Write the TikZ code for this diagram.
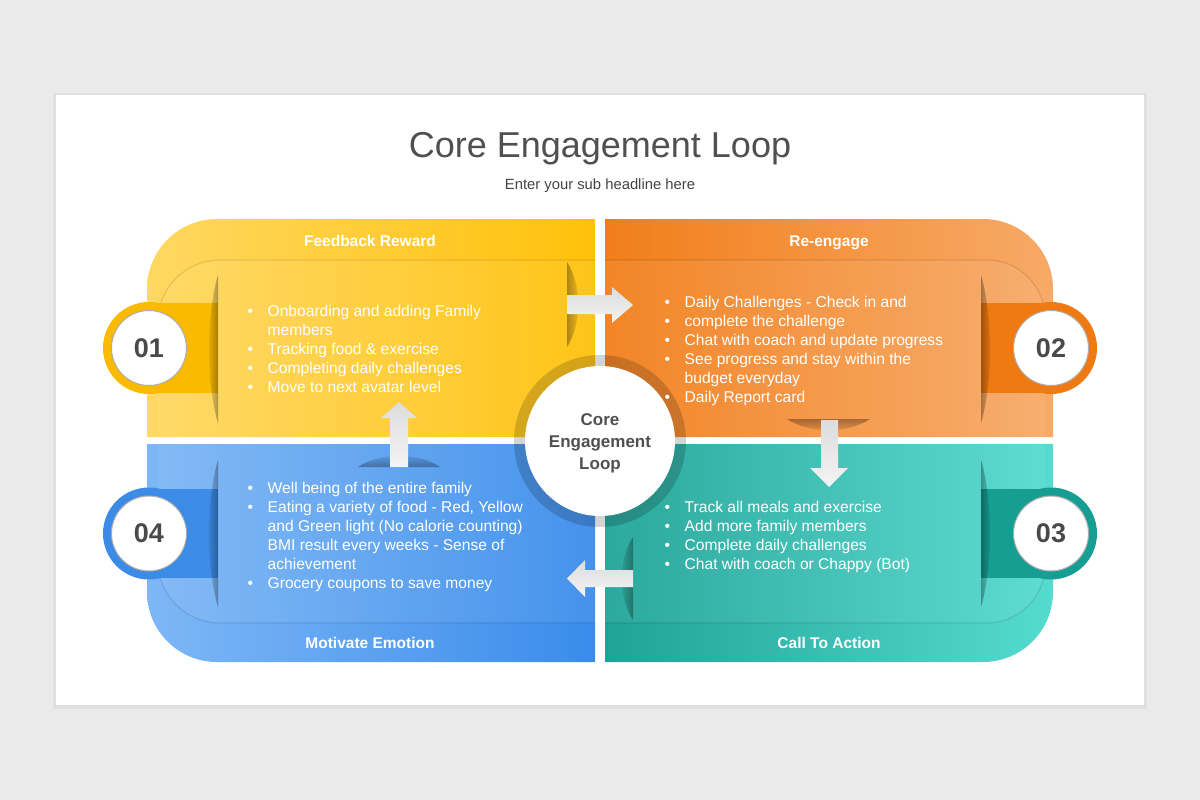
\documentclass[tikz,border=0pt]{standalone}
\usepackage{fontspec}
\setmainfont{Liberation Sans}
\usetikzlibrary{fadings}
\definecolor{bg}{HTML}{EBEAEB}
\definecolor{titlegray}{HTML}{505050}
\definecolor{subgray}{HTML}{444444}
\definecolor{numgray}{HTML}{4A4A4A}
\definecolor{yelL}{HTML}{FFD862}
\definecolor{yelR}{HTML}{FFC10A}
\definecolor{yelT}{HTML}{F9BA00}
\definecolor{orL}{HTML}{F27E1A}
\definecolor{orR}{HTML}{F7AA68}
\definecolor{orT}{HTML}{EF7A12}
\definecolor{teL}{HTML}{1FA397}
\definecolor{teR}{HTML}{56DBD0}
\definecolor{teT}{HTML}{179E92}
\definecolor{blL}{HTML}{7EB7F6}
\definecolor{blR}{HTML}{3A8CEB}
\definecolor{blT}{HTML}{3B8BE7}
\definecolor{arrL}{HTML}{DCDCDC}
\definecolor{arrR}{HTML}{F4F4F4}
\tikzfading[name=fadeR, left color=transparent!100, right color=transparent!0]
\tikzfading[name=fadeL, left color=transparent!0, right color=transparent!100]
\tikzfading[name=fadeT, top color=transparent!0, bottom color=transparent!100]
\tikzfading[name=fadeB, top color=transparent!100, bottom color=transparent!0]
\tikzset{
  badge/.style={circle, fill=white, draw=gray!65, line width=1, minimum size=75, inner sep=0,
    font=\bfseries\fontsize{27}{27}\selectfont, text=numgray},
  hdr/.style={anchor=base, inner sep=0, text=white, font=\bfseries\fontsize{15.5}{18}\selectfont},
  bul/.style={anchor=base west, inner sep=0, text=white, font=\fontsize{15.6}{19}\selectfont},
  coretxt/.style={anchor=base, inner sep=0, text=titlegray, font=\bfseries\fontsize{17}{22}\selectfont},
  edge/.style={line width=1.2, opacity=0.10, draw=black},
  shad/.style={fill=black, opacity=0.32},
  blockarrow/.style={top color=arrL, bottom color=arrR},
}
\begin{document}
\begin{tikzpicture}[x=1pt,y=-1pt]
\useasboundingbox (0,0) rectangle (1200,800);
\fill[bg] (0,0) rectangle (1200,800);
\fill[black,opacity=0.04] (53,93) rectangle (1147,709);
\fill[white] (56,95) rectangle (1144,705);

% titles
\node[anchor=base, inner sep=0, text=titlegray, font=\fontsize{36}{40}\selectfont] (title) at (600,157) {Core Engagement Loop};
\node[anchor=base, inner sep=0, text=subgray, font=\fontsize{14.8}{16}\selectfont] (subtitle) at (600,189) {Enter your sub headline here};

% ---------- yellow (top-left)
\shade[left color=yelL, right color=yelR] (595,219) -- (217,219) .. controls (178.34,219) and (147,250.34) .. (147,289) -- (147,437) -- (595,437) -- cycle;
\fill[white,opacity=0.06] (595,260) -- (220,260) .. controls (185.76,260) and (158,287.76) .. (158,322) -- (158,437) -- (595,437) -- cycle;
\draw[edge] (595,260) -- (220,260) .. controls (185.76,260) and (158,287.76) .. (158,322) -- (158,345);
\fill[yelT] (149,303) rectangle (218,393);
\fill[yelT] (149,348) circle[radius=46];
\node[badge] (b1) at (149,348) {01};
\fill[shad, path fading=fadeR] (218,275) .. controls (206,315) and (206,383) .. (218,423) -- cycle;
\fill[shad, path fading=fadeL] (567,262) .. controls (582,285) and (582,324) .. (567,347) -- cycle;

% ---------- orange (top-right)
\shade[left color=orL, right color=orR] (605,219) -- (983,219) .. controls (1021.66,219) and (1053,250.34) .. (1053,289) -- (1053,437) -- (605,437) -- cycle;
\fill[white,opacity=0.06] (605,260) -- (987,260) .. controls (1018.97,260) and (1045,286.03) .. (1045,318) -- (1045,437) -- (605,437) -- cycle;
\draw[edge] (605,260) -- (987,260) .. controls (1018.97,260) and (1045,286.03) .. (1045,318) -- (1045,345);
\fill[orT] (981,303) rectangle (1051,393);
\fill[orT] (1051,348) circle[radius=46];
\node[badge] (b2) at (1051,348) {02};
\fill[shad, path fading=fadeL] (981,275) .. controls (993,315) and (993,383) .. (981,423) -- cycle;
\fill[shad, path fading=fadeT] (787,419) .. controls (810,434) and (847,434) .. (870,419) -- cycle;

% ---------- teal (bottom-right)
\shade[left color=teL, right color=teR] (605,662) -- (983,662) .. controls (1021.66,662) and (1053,630.66) .. (1053,592) -- (1053,444) -- (605,444) -- cycle;
\fill[white,opacity=0.06] (605,623) -- (987,623) .. controls (1018.97,623) and (1045,596.97) .. (1045,565) -- (1045,444) -- (605,444) -- cycle;
\draw[edge] (605,623) -- (987,623) .. controls (1018.97,623) and (1045,596.97) .. (1045,565) -- (1045,535);
\fill[teT] (981,489) rectangle (1051,578);
\fill[teT] (1051,533.5) circle[radius=46];
\node[badge] (b3) at (1051,533.5) {03};
\fill[shad, path fading=fadeL] (981,460) .. controls (993,500) and (993,567) .. (981,607) -- cycle;
\fill[shad, path fading=fadeR] (633,537) .. controls (618,560) and (618,597) .. (633,620) -- cycle;

% ---------- blue (bottom-left)
\shade[left color=blL, right color=blR] (595,662) -- (217,662) .. controls (178.34,662) and (147,630.66) .. (147,592) -- (147,444) -- (595,444) -- cycle;
\fill[white,opacity=0.06] (595,623) -- (220,623) .. controls (185.76,623) and (158,595.24) .. (158,561) -- (158,444) -- (595,444) -- cycle;
\draw[edge] (595,623) -- (220,623) .. controls (185.76,623) and (158,595.24) .. (158,561) -- (158,535);
\fill[blT] (149,489) rectangle (218,578);
\fill[blT] (149,533.5) circle[radius=46];
\node[badge] (b4) at (149,533.5) {04};
\fill[shad, path fading=fadeR] (218,460) .. controls (206,500) and (206,567) .. (218,607) -- cycle;
\fill[shad, path fading=fadeB] (358,467) .. controls (380,452) and (418,452) .. (440,467) -- cycle;

% ---------- block arrows
\shade[blockarrow] (567,295) -- (612,295) -- (612,287) -- (633,305) -- (612,323) -- (612,314) -- (567,314) -- cycle;
\shade[blockarrow] (821,420) -- (838,420) -- (838,468) -- (848,468) -- (829,487) -- (810,468) -- (821,468) -- cycle;
\shade[blockarrow] (633,570) -- (585,570) -- (585,560) -- (567,578.5) -- (585,597) -- (585,587) -- (633,587) -- cycle;
\shade[blockarrow] (390,467) -- (390,418) -- (381,418) -- (399,402) -- (417,418) -- (408,418) -- (408,467) -- cycle;

% ---------- center
\fill[black,opacity=0.17] (600,441) circle[radius=86];
\node[circle, fill=white, minimum size=150, inner sep=0] (core) at (600,441) {};
\node[coretxt] (c1) at (600,425) {Core};
\node[coretxt] (c2) at (600,447) {Engagement};
\node[coretxt] (c3) at (600,469) {Loop};

% ---------- headers
\node[hdr] (h1) at (370,246) {Feedback Reward};
\node[hdr] (h2) at (829,246) {Re-engage};
\node[hdr] (h3) at (829,648) {Call To Action};
\node[hdr] (h4) at (370,648) {Motivate Emotion};

% ---------- bullet texts
\node[bul] (t1) at (247.5,316) {\begin{tabular}[t]{@{}p{20pt}@{}l@{}}
• & Onboarding and adding Family\\
  & members\\
• & Tracking food \& exercise\\
• & Completing daily challenges\\
• & Move to next avatar level
\end{tabular}};
\node[bul] (t2) at (664.5,307) {\begin{tabular}[t]{@{}p{20pt}@{}l@{}}
• & Daily Challenges - Check in and\\
• & complete the challenge\\
• & Chat with coach and update progress\\
• & See progress and stay within the\\
  & budget everyday\\
• & Daily Report card
\end{tabular}};
\node[bul] (t3) at (664.5,512) {\begin{tabular}[t]{@{}p{20pt}@{}l@{}}
• & Track all meals and exercise\\
• & Add more family members\\
• & Complete daily challenges\\
• & Chat with coach or Chappy (Bot)
\end{tabular}};
\node[bul] (t4) at (247.5,493) {\begin{tabular}[t]{@{}p{20pt}@{}l@{}}
• & Well being of the entire family\\
• & Eating a variety of food - Red, Yellow\\
  & and Green light (No calorie counting)\\
  & BMI result every weeks - Sense of\\
  & achievement\\
• & Grocery coupons to save money
\end{tabular}};
\end{tikzpicture}
\end{document}
